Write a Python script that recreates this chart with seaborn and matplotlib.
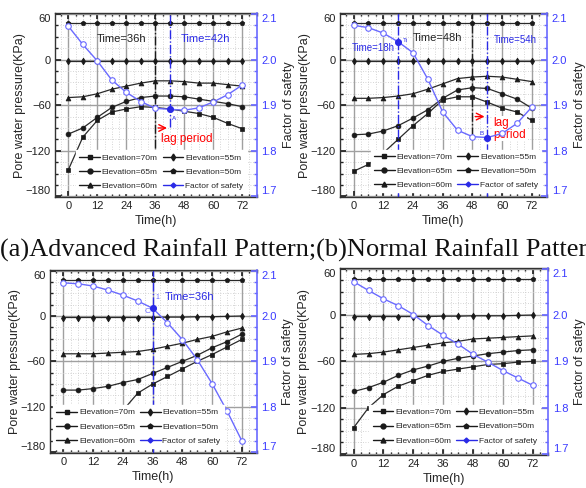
import matplotlib
matplotlib.use('Agg')
import matplotlib.pyplot as plt
from matplotlib.lines import Line2D
from matplotlib.ticker import MultipleLocator
import seaborn as sns

# Time axis (h)
hours = [0, 6, 12, 18, 24, 30, 36, 42, 48, 54, 60, 66, 72]

# (a) advanced rainfall pattern
a_e50 = [48, 48, 48, 48, 48, 48, 48, 48, 48, 48, 48, 48, 48]
a_e55 = [-2, -2, -2, -2, -2, -2, -2, -2, -2, -2, -2, -2, -2]
a_e60 = [-50, -49, -45, -39, -35, -31, -28, -28, -29, -31, -31, -33, -35]
a_e65 = [-98, -90, -76, -63, -55, -50, -48, -48, -49, -52, -55, -58, -62]
a_e70 = [-145, -102, -80, -69, -65, -62, -63, -65, -68, -71, -76, -84, -91]
a_fos = [2.073, 2.033, 1.997, 1.955, 1.928, 1.908, 1.893, 1.891, 1.889, 1.894, 1.907, 1.923, 1.944]

# (b) normal rainfall pattern
b_e50 = [48, 48, 48, 48, 48, 48, 48, 48, 48, 48, 48, 48, 48]
b_e55 = [-2, -2, -2, -2, -2, -2, -2, -2, -2, -2, -2, -2, -2]
b_e60 = [-51, -51, -50, -48, -45, -39, -32, -25, -23, -22, -23, -26, -29]
b_e65 = [-99, -98, -94, -87, -77, -66, -51, -40, -37, -38, -45, -52, -64]
b_e70 = [-147, -138, -123, -105, -87, -71, -53, -49, -49, -56, -64, -69, -80]
b_fos = [2.075, 2.070, 2.058, 2.039, 2.015, 1.957, 1.885, 1.845, 1.831, 1.829, 1.838, 1.860, 1.896]

# (c) lower left panel
c_e50 = [47, 47, 47, 47, 47, 47, 47, 47, 47, 47, 47, 47, 47]
c_e55 = [-2, -2, -2, -2, -2, -2, -2, -1.5, -1.5, -1, -1, -0.5, 0]
c_e60 = [-50, -50, -50, -49, -48, -47, -44, -40, -36, -31, -27, -21, -16]
c_e65 = [-98, -98, -96, -93, -88, -84, -76, -68, -60, -52, -42, -34, -24]
c_e70 = [-158, -156, -150, -140, -125, -102, -90, -80, -70, -60, -51, -41, -31]
c_fos = [2.073, 2.071, 2.066, 2.057, 2.046, 2.033, 2.017, 1.985, 1.948, 1.904, 1.851, 1.791, 1.725]

# (d) lower right panel
d_e50 = [46, 46, 46, 46, 46, 46, 46, 46, 46, 46, 46, 46, 46]
d_e55 = [-2, -2, -2, -2, -2, -2, -1.5, -1.5, -1, -1, -1, -0.5, 0]
d_e60 = [-51, -50, -48, -45, -42, -39, -36, -34, -31, -30, -29, -28, -27]
d_e65 = [-99, -94, -87, -78, -71, -66, -60, -56, -53, -50, -48, -46, -45]
d_e70 = [-146, -120, -103, -92, -85, -78, -73, -70, -67, -64, -63, -61, -60]
d_fos = [2.072, 2.053, 2.035, 2.020, 2.001, 1.977, 1.956, 1.937, 1.915, 1.898, 1.880, 1.864, 1.848]

labels = ['Elevation=70m', 'Elevation=65m', 'Elevation=60m',
          'Elevation=55m', 'Elevation=50m', 'Factor of safety']
markers = ['s', 'o', '^', 'd', 'p']
pwp_ticks = [-180, -120, -60, 0, 60]
fos_ticks = [1.7, 1.8, 1.9, 2.0, 2.1]

BLUE = '#6a6aff'
DBLUE = '#2a2ae6'
LFONT = ['Liberation Sans Narrow', 'Liberation Sans']

sns.set_theme(style='white')
plt.rcParams['font.family'] = ['Liberation Sans', 'DejaVu Sans']

fig = plt.figure(figsize=(5.86, 4.88), dpi=100)


def panel(rect, series, fos, hi_idx, leg_loc, leg_anchor, ylab_l, ylab_r):
    ax = fig.add_axes(rect)
    ax2 = ax.twinx()
    ax.set_xlim(-5.5, 78)
    ax.set_ylim(-181, 61)
    ax2.set_ylim(2.0 - 181 / 600, 2.0 + 61 / 600)

    ax.xaxis.set_major_locator(MultipleLocator(12))
    ax.xaxis.set_minor_locator(MultipleLocator(3))
    ax.set_yticks(pwp_ticks)
    ax.yaxis.set_minor_locator(MultipleLocator(15))
    ax2.set_yticks(fos_ticks)
    ax2.set_yticklabels([f'{v:.1f}' for v in fos_ticks])
    ax2.yaxis.set_minor_locator(MultipleLocator(0.025))

    ax.grid(which='major', color='#a0a0a0', lw=1.0)
    ax.grid(which='minor', color='#c8c8c8', lw=0.6, ls=(0, (1, 2)))
    ax.set_axisbelow(True)

    for vals, m in zip(series, markers):
        sns.lineplot(x=hours, y=vals, ax=ax, color='#2a2a2a', lw=0.9,
                     marker=m, markersize=3.5, markeredgecolor='k',
                     markerfacecolor='k', markeredgewidth=0.5)
    sns.lineplot(x=hours, y=fos, ax=ax2, color=BLUE, lw=1.0, marker='o',
                 markersize=4, markerfacecolor='white', markeredgecolor=BLUE,
                 markeredgewidth=0.8)
    for i in hi_idx:
        ax2.plot(hours[i], fos[i], 'o', color=DBLUE, markersize=4)

    ax.tick_params(axis='both', which='both', direction='in', labelsize=8,
                   colors='#222222', top=True, left=True, bottom=True, pad=3)
    ax.tick_params(which='major', length=4)
    ax.tick_params(which='minor', length=2)
    ax2.tick_params(axis='y', which='both', direction='in', colors=BLUE,
                    labelsize=8, labelcolor='#3a3aff')
    ax2.tick_params(which='major', length=4)
    ax2.tick_params(which='minor', length=2)

    # end labels sit inside the frame, as in the source figure
    yl = ax.get_yticklabels()
    yl[0].set_va('bottom')
    yl[-1].set_va('top')
    yr = ax2.get_yticklabels()
    yr[0].set_va('bottom')
    yr[-1].set_va('top')

    for s in ['left', 'top', 'bottom']:
        ax.spines[s].set_color('#333333')
        ax.spines[s].set_linewidth(1.0)
        ax2.spines[s].set_visible(False)
    ax.spines['right'].set_visible(False)
    ax2.spines['right'].set_color(BLUE)
    ax2.spines['right'].set_linewidth(1.2)

    ax.set_xlabel('Time(h)', fontsize=9, labelpad=3)
    ax.set_ylabel('Pore water pressure(KPa)', fontsize=9)
    ax2.set_ylabel('Factor of safety', fontsize=9)
    ax.yaxis.set_label_coords(ylab_l, 0.5)
    ax2.yaxis.set_label_coords(ylab_r, 0.5)

    handles = [Line2D([], [], color='k', lw=1, marker=m, markersize=3.5)
               for m in markers]
    handles.append(Line2D([], [], color=DBLUE, lw=1, marker='D', markersize=2.5))
    leg = ax2.legend(handles, labels, ncol=2, loc=leg_loc,
                     bbox_to_anchor=leg_anchor,
                     prop={'family': LFONT, 'size': 6},
                     handlelength=2.5, handletextpad=0.2, columnspacing=0.6,
                     labelspacing=0.75, borderpad=0.4, frameon=True,
                     fancybox=False, framealpha=1, edgecolor='white',
                     facecolor='white', borderaxespad=0)
    leg.set_zorder(10)
    return ax, ax2


# (a)
ax, ax2 = panel([0.094, 0.596, 0.344, 0.377],
                [a_e70, a_e65, a_e60, a_e55, a_e50], a_fos, [7],
                'lower right', (0.95, 0.022), -0.143, 1.131)
ax.vlines(36, -116, 61, color='k', ls='-.', lw=1)
ax.vlines(42, -89, 61, color=DBLUE, ls='-.', lw=1)
ax.annotate('', xy=(42, -90), xytext=(36, -90),
            arrowprops=dict(arrowstyle='->', color='red', lw=1))
ax.text(49, -105, 'lag period', color='red', fontsize=8.5, ha='center', va='center')
ax.text(22, 27, 'Time=36h', color='#222222', fontsize=8, ha='center', va='center')
ax.text(57, 27, 'Time=42h', color=DBLUE, fontsize=8, ha='center', va='center')
ax.text(43, -78, 'A', color=DBLUE, fontsize=4.5, ha='left', va='center')

# (b)
ax, ax2 = panel([0.580, 0.596, 0.353, 0.377],
                [b_e70, b_e65, b_e60, b_e55, b_e50], b_fos, [3, 9],
                'lower right', (0.974, 0.027), -0.139, 1.133)
ax.vlines(18, -181, 61, color=DBLUE, ls='-.', lw=1)
ax.vlines(48, -100, 61, color='#222222', ls='-.', lw=1)
ax.vlines(54, -181, 61, color=DBLUE, ls='-.', lw=1)
ax.annotate('', xy=(54, -75), xytext=(48, -75),
            arrowprops=dict(arrowstyle='->', color='red', lw=1))
ax.text(56.5, -91, 'lag\nperiod', color='red', fontsize=8.5, ha='left',
        va='center', linespacing=1.0,
        bbox=dict(facecolor='white', edgecolor='none', pad=0.5))
ax.text(34, 29, 'Time=48h', color='#222222', fontsize=8, ha='center', va='center')
ax.text(65.5, 26, 'Time=54h', color=DBLUE, fontsize=7, ha='center', va='center')
ax.text(8, 15, 'Time=18h', color=DBLUE, fontsize=7, ha='center', va='center')
ax.text(20, 25, 'Ti', color=DBLUE, fontsize=4.5, ha='left', va='center')
ax.text(51, -97, 'B', color=DBLUE, fontsize=4.5, ha='left', va='center')

# (c)
ax, ax2 = panel([0.085, 0.072, 0.353, 0.375],
                [c_e70, c_e65, c_e60, c_e55, c_e50], c_fos, [6],
                'lower left', (0.016, 0.027), -0.138, 1.123)
ax.vlines(36, -181, 61, color=DBLUE, ls='-.', lw=1)
ax.text(51, 25, 'Time=36h', color=DBLUE, fontsize=8, ha='center', va='center')
ax.text(38, 25, '1', color=BLUE, fontsize=5, ha='center', va='center')
ax.text(34, 6, 'C', color=BLUE, fontsize=6, ha='center', va='center')

# (d)
ax, ax2 = panel([0.580, 0.068, 0.355, 0.383],
                [d_e70, d_e65, d_e60, d_e55, d_e50], d_fos, [],
                'lower right', (0.962, 0.037), -0.145, 1.127)

fig.text(0.0, 0.474, '(a)Advanced Rainfall Pattern;(b)Normal Rainfall Pattern',
         family=['Liberation Serif', 'DejaVu Serif'], fontsize=19,
         va='baseline', ha='left', color='#111111')

fig.savefig('out.png', dpi=100)
